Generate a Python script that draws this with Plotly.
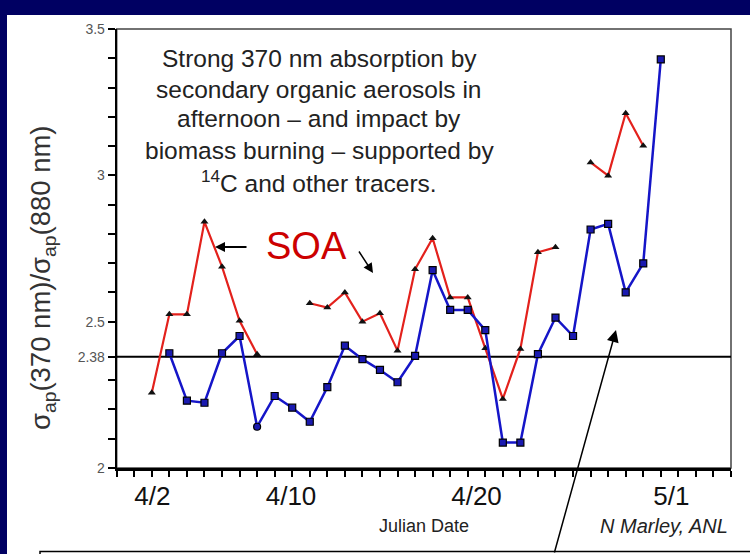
import plotly.graph_objects as go

# ---------------- data ----------------
days = list(range(92, 122))  # day of year, 4/2 .. 5/1
soa_ratio = [2.257, 2.525, 2.525, 2.841, 2.688, 2.503, 2.389, None, None, 2.563,
             2.548, 2.600, 2.500, 2.529, 2.401, 2.679, 2.785, 2.583, 2.583, 2.409,
             2.236, 2.407, 2.737, 2.754, None, 3.044, 2.999, 3.212, 3.101, None]
all_ratio = [None, 2.392, 2.230, 2.223, 2.392, 2.451, 2.141, 2.246, 2.206, 2.158,
             2.276, 2.418, 2.372, 2.335, 2.293, 2.383, 2.676, 2.540, 2.540, 2.471,
             2.087, 2.087, 2.389, 2.514, 2.451, 2.815, 2.834, 2.600, 2.699, 3.396]
reference_ratio = 2.38

x_tick_vals = [92.03, 99.93, 110.5, 121.6]
x_tick_text = ["4/2", "4/10", "4/20", "5/1"]
y_tick_vals = [2, 2.38, 2.5, 3, 3.5]
y_tick_text = ["2", "2.38", "2.5", "3", "3.5"]

text_lines = [
    "Strong 370 nm absorption by",
    "secondary organic aerosols in",
    "afternoon \u2013 and impact by",
    "biomass burning \u2013 supported by",
    "<sup>14</sup>C and other tracers.",
]

# ---------------- layout helpers ----------------
W, H = 750, 554
FONT = "Liberation Sans, Arial, Helvetica, sans-serif"


def px(x):
    return x / W


def py(y):
    return 1 - y / H


blue_symbols = ["square"] * len(days)
blue_symbols[days.index(98)] = "circle"

fig = go.Figure()
fig.add_trace(go.Scatter(
    x=days, y=soa_ratio, mode="lines+markers", connectgaps=False,
    line=dict(color="#E3211C", width=2.2),
    marker=dict(symbol="triangle-up", size=7, color="#111111"),
    showlegend=False,
))
fig.add_trace(go.Scatter(
    x=days, y=all_ratio, mode="lines+markers", connectgaps=False,
    line=dict(color="#1515C8", width=2.5),
    marker=dict(symbol=blue_symbols, size=7, color="#1A1AB0",
                line=dict(color="#000000", width=1.2)),
    showlegend=False,
))

minor_y = [round(2 + 0.1 * i, 1) for i in range(1, 15) if round(2 + 0.1 * i, 1) not in (2.4, 2.5, 3.0)]

fig.update_layout(
    template="none",
    width=W, height=H,
    margin=dict(l=0, r=0, t=0, b=0, pad=0),
    paper_bgcolor="#000062",
    plot_bgcolor="white",
    font=dict(family=FONT, color="#222"),
    xaxis=dict(
        domain=[116.7 / W, 731 / W],
        range=[90, 125], automargin=False,
        showgrid=False, zeroline=False,
        showline=True, linecolor="black", linewidth=2.5,
        tickmode="array", tickvals=x_tick_vals, ticktext=x_tick_text,
        ticks="", ticklabelstandoff=3,
        tickfont=dict(size=26, color="#111", family=FONT),
        minor=dict(ticks="outside", ticklen=6, tickwidth=1.5, tickcolor="black",
                   tickmode="linear", tick0=90, dtick=1, showgrid=False),
    ),
    yaxis=dict(
        domain=[1 - 468 / H, 1 - 29 / H],
        range=[2, 3.5], automargin=False,
        showgrid=False, zeroline=False,
        showline=True, linecolor="black", linewidth=2,
        tickmode="array", tickvals=y_tick_vals, ticktext=y_tick_text,
        ticks="outside", ticklen=7, tickwidth=1.5, tickcolor="black",
        tickfont=dict(size=14, color="#555", family=FONT),
        minor=dict(ticks="outside", ticklen=7, tickwidth=1.5, tickcolor="black",
                   tickmode="array", tickvals=minor_y, showgrid=False),
    ),
)

shapes = [
    # white slide panel
    dict(type="rect", xref="paper", yref="paper", x0=px(7), x1=1.01, y0=-0.01, y1=py(15),
         fillcolor="white", line=dict(width=0), layer="below"),
    # plot frame (top/right)
    dict(type="rect", xref="x domain", yref="y domain", x0=0, x1=1, y0=0, y1=1,
         line=dict(color="#444", width=1.5), layer="below"),
    # reference line
    dict(type="line", xref="x", yref="y", x0=90, x1=125.15, y0=reference_ratio, y1=reference_ratio,
         line=dict(color="black", width=2), layer="below"),
    # bottom text box (cut off)
    dict(type="rect", xref="paper", yref="paper", x0=px(40), x1=1.02, y0=-0.05, y1=py(551.5),
         fillcolor="white", line=dict(color="black", width=1.5)),
]
fig.update_layout(shapes=shapes)

ann = []
line_centers = [58, 89, 119, 150, 181]
for t, yc in zip(text_lines, line_centers):
    ann.append(dict(text=t, x=px(319), y=py(yc), xref="paper", yref="paper",
                    showarrow=False, xanchor="center", yanchor="middle",
                    font=dict(size=24.5, color="#222", family=FONT)))
ann.append(dict(text="SOA", x=px(306), y=py(246), xref="paper", yref="paper",
                showarrow=False, xanchor="center", yanchor="middle",
                font=dict(size=38, color="#CC0000", family=FONT)))
# arrows
for tip, tail, w, s in [((215, 247), (248, 247), 2, 1.0),
                         ((373, 273), (358, 250), 1.5, 1.3),
                         ((616, 330), (554, 558), 1.5, 1.6)]:
    ann.append(dict(text="", x=px(tip[0]), y=py(tip[1]), xref="paper", yref="paper",
                    showarrow=True, arrowhead=2, arrowsize=s, arrowwidth=w,
                    arrowcolor="black", ax=tail[0] - tip[0], ay=tail[1] - tip[1]))
ann.append(dict(text="\u03c3<sub>ap</sub>(370 nm)/\u03c3<sub>ap</sub>(880 nm)",
                x=px(42), y=py(278), xref="paper", yref="paper", textangle=-90,
                showarrow=False, xanchor="center", yanchor="middle",
                font=dict(size=27.5, color="#333", family=FONT)))
ann.append(dict(text="Julian Date", x=px(424), y=py(526), xref="paper", yref="paper",
                showarrow=False, xanchor="center", yanchor="middle",
                font=dict(size=18, color="#222", family=FONT)))
ann.append(dict(text="<i>N Marley, ANL</i>", x=px(664), y=py(526), xref="paper", yref="paper",
                showarrow=False, xanchor="center", yanchor="middle",
                font=dict(size=20, color="#222", family=FONT)))
fig.update_layout(annotations=ann)

fig.write_html(
    "out.html",
    config={"displayModeBar": False},
    post_script="document.body.style.margin='0';document.body.style.padding='0';"
                "document.body.style.background='#000062';",
)
